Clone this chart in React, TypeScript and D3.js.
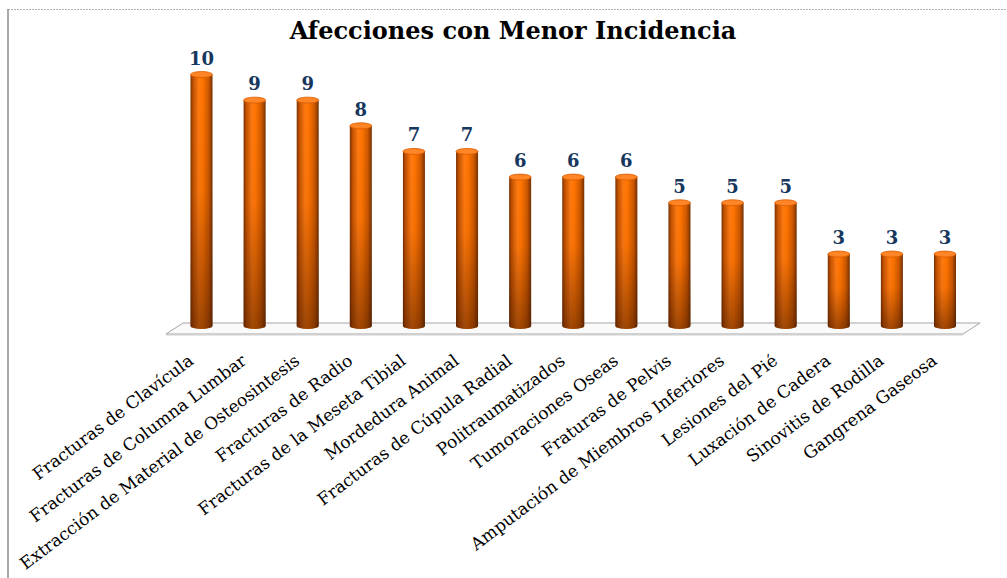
import { useEffect, useRef } from 'react';
import * as d3 from 'd3';

const width = 1007;
const height = 578;

const categories = [
  'Fracturas de Clavícula',
  'Fracturas de Columna Lumbar',
  'Extracción de Material de Osteosintesis',
  'Fracturas de Radio',
  'Fracturas de la Meseta Tibial',
  'Mordedura Animal',
  'Fracturas de Cúpula Radial',
  'Politraumatizados',
  'Tumoraciones Oseas',
  'Fraturas de Pelvis',
  'Amputación de Miembros Inferiores',
  'Lesiones del Pié',
  'Luxación de Cadera',
  'Sinovitis de Rodilla',
  'Gangrena Gaseosa',
];
const values = [10, 9, 9, 8, 7, 7, 6, 6, 6, 5, 5, 5, 3, 3, 3];
const title = 'Afecciones con Menor Incidencia';

const serif = "'DejaVu Serif', serif";
const barRx = 11;
const capRy = 3;

const App = () => {
  const svgRef = useRef(null);

  useEffect(() => {
    const svg = d3.select(svgRef.current);
    svg.selectAll('*').remove();

    const x = d3.scalePoint().domain(categories).range([201.5, 945]);
    const y = d3.scaleLinear().domain([0, 10]).range([331, 74.5]);
    const baseY = y(0) - 5; // centre of each cylinder's bottom ellipse

    const defs = svg.append('defs');
    const hGrad = defs.append('linearGradient').attr('id', 'cylH').attr('x1', 0).attr('x2', 1);
    [
      ['0%', '#7a3000'],
      ['12%', '#c25200'],
      ['38%', '#ff7a12'],
      ['55%', '#ff7400'],
      ['82%', '#cc5800'],
      ['100%', '#743000'],
    ].forEach(([o, c]) => hGrad.append('stop').attr('offset', o).attr('stop-color', c));

    const vGrad = defs.append('linearGradient').attr('id', 'cylV').attr('x1', 0).attr('x2', 0).attr('y1', 0).attr('y2', 1);
    [
      ['0%', 'rgba(70,25,0,0)'],
      ['45%', 'rgba(70,25,0,0.05)'],
      ['100%', 'rgba(60,20,0,0.5)'],
    ].forEach(([o, c]) => vGrad.append('stop').attr('offset', o).attr('stop-color', c));

    // outer frame
    svg.append('line')
      .attr('x1', 8).attr('x2', width).attr('y1', 9.5).attr('y2', 9.5)
      .attr('stroke', '#b0b0b0').attr('stroke-dasharray', '2,1');
    svg.append('line')
      .attr('x1', 8).attr('x2', 8).attr('y1', 9).attr('y2', height)
      .attr('stroke', '#8c8c8c').attr('stroke-width', 1.5);

    // title
    svg.append('text')
      .attr('x', 513).attr('y', 39)
      .attr('text-anchor', 'middle')
      .attr('font-family', serif)
      .attr('font-weight', 'bold')
      .attr('font-size', 24)
      .attr('fill', '#000')
      .text(title);

    // floor
    svg.append('polygon')
      .attr('points', [[183, 323], [980, 323], [963, 334], [166, 334]].map((p) => p.join(',')).join(' '))
      .attr('fill', '#fafafa')
      .attr('stroke', '#a6a6a6')
      .attr('stroke-width', 1);
    svg.append('line')
      .attr('x1', 166).attr('x2', 963).attr('y1', 335).attr('y2', 335)
      .attr('stroke', '#cfcfcf').attr('stroke-width', 1);

    // cylinders
    const bars = svg.append('g').selectAll('g').data(values).join('g');
    const bodyPath = (d, i) => {
      const cx = x(categories[i]);
      const top = y(d);
      return `M${cx - barRx},${top} L${cx - barRx},${baseY} A${barRx},${capRy} 0 0 0 ${cx + barRx},${baseY} L${cx + barRx},${top} Z`;
    };
    bars.append('path').attr('d', bodyPath).attr('fill', 'url(#cylH)');
    bars.append('path').attr('d', bodyPath).attr('fill', 'url(#cylV)');
    bars.append('ellipse')
      .attr('cx', (d, i) => x(categories[i]))
      .attr('cy', (d) => y(d))
      .attr('rx', barRx)
      .attr('ry', capRy)
      .attr('fill', '#ff8526')
      .attr('stroke', '#d85a00')
      .attr('stroke-width', 0.8);

    // value labels
    svg.append('g').selectAll('text').data(values).join('text')
      .attr('x', (d, i) => x(categories[i]))
      .attr('y', (d) => y(d) - 10)
      .attr('text-anchor', 'middle')
      .attr('font-family', serif)
      .attr('font-weight', 'bold')
      .attr('font-size', 18)
      .attr('fill', '#17375e')
      .text((d) => d);

    // category labels
    svg.append('g').selectAll('text').data(categories).join('text')
      .attr('transform', (d) => `translate(${x(d) - 7},${363}) rotate(-37)`)
      .attr('text-anchor', 'end')
      .attr('font-family', serif)
      .attr('font-size', 17)
      .attr('fill', '#000')
      .text((d) => d);
  }, []);

  return (
    <svg
      ref={svgRef}
      width={width}
      height={height}
      style={{ position: 'absolute', left: 0, top: 0, background: '#fff' }}
    />
  );
};

export default App;
